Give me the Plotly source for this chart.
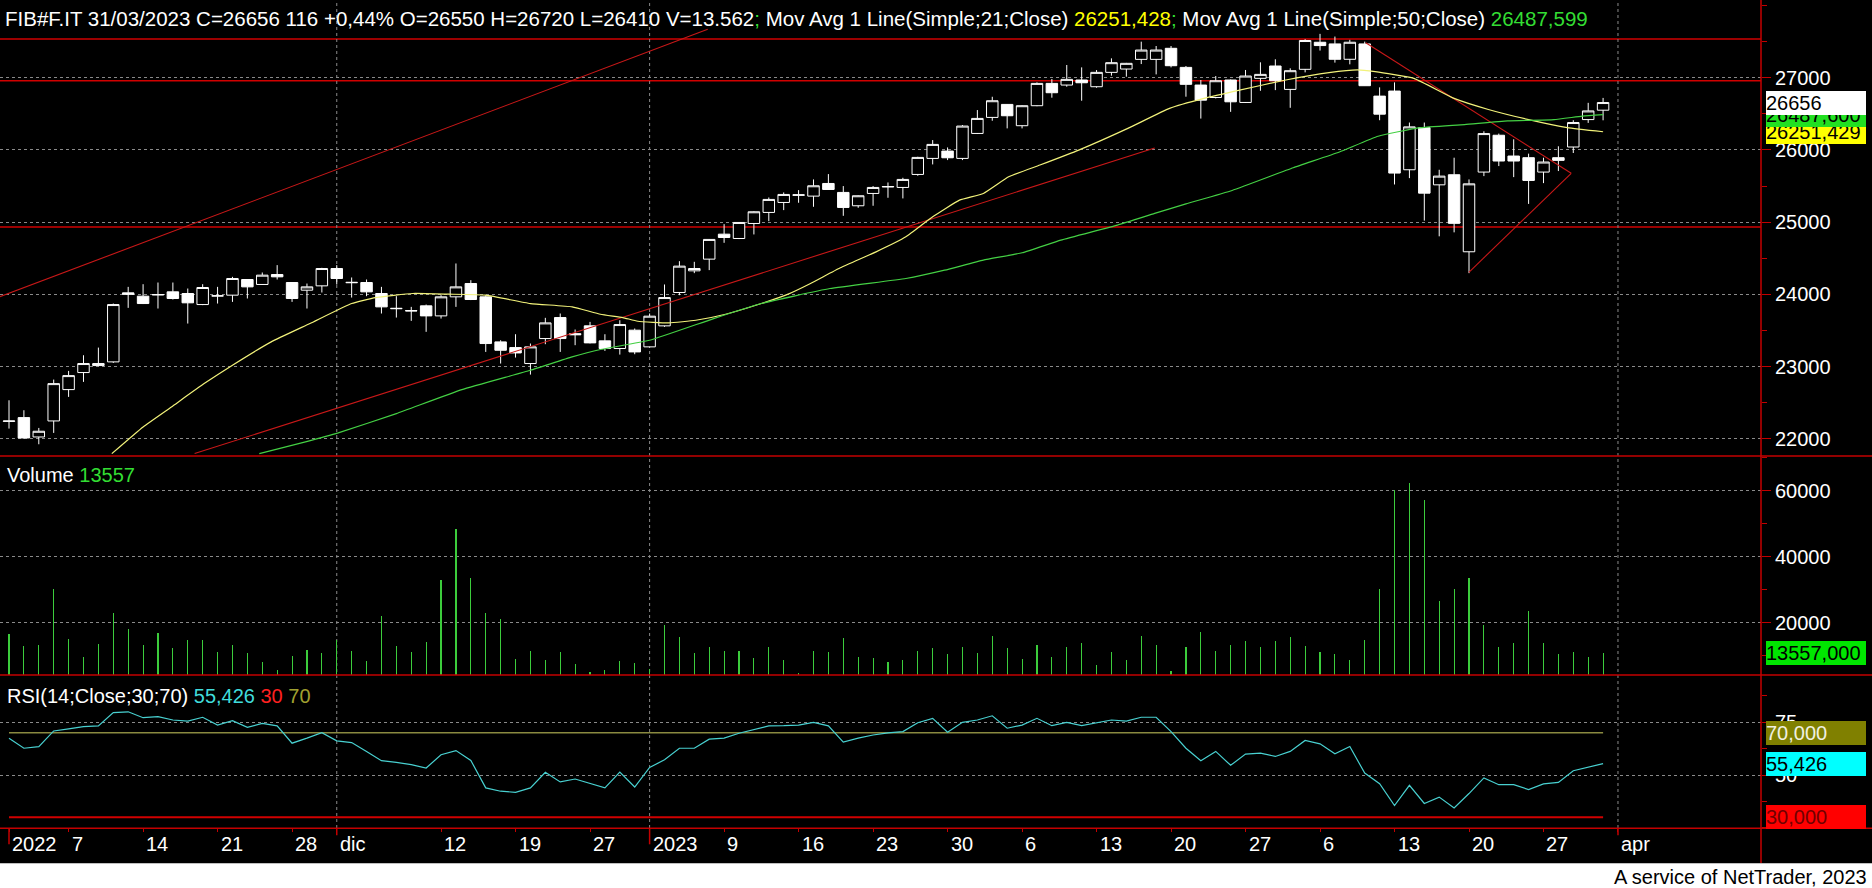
import plotly.graph_objects as go

W, H = 1872, 888
FONT = "Liberation Sans, Arial, sans-serif"
RED = "#c40000"
GRID = "#8a8a8a"

# ---------------- data ----------------
opens = [22240,22292,22024,22246,22680,22916,23013,23064,24020,23974,
         23990,24034,24011,23858,23975,23988,24205,24136,24274,24163,
         24057,24117,24357,24160,24163,24011,23800,23775,23840,23701,
         23965,24149,23965,23341,23262,23041,23387,23678,23455,23563,
         23355,23249,23503,23272,23563,24025,24325,24487,24833,24773,
         24981,25134,25272,25370,25360,25535,25411,25226,25397,25487,
         25480,25660,25882,25984,25882,26228,26450,26630,26335,26612,
         26921,26898,26968,26875,27074,27120,27254,27254,27407,27143,
         26898,26726,26968,26657,26991,27162,26838,27116,27491,27468,
         27255,27468,26745,26815,25725,26309,25516,25656,24589,25693,
         26203,25915,25892,25693,25892,26040,26420,26550]
highs = [22532,22394,22149,22819,22939,23156,23262,23872,24103,24140,
         24163,24163,24080,24140,24103,24242,24210,24302,24404,24170,
         24149,24367,24404,24233,24205,24103,23974,23826,23858,23988,
         24427,24196,23988,23364,23447,23318,23674,23734,23512,23618,
         23447,23641,23526,23734,24136,24459,24450,24765,24972,25000,
         25150,25341,25411,25443,25591,25665,25499,25370,25499,25549,
         25614,25905,26136,26034,26344,26552,26736,26635,26618,26935,
         26982,27176,27143,27106,27268,27205,27499,27439,27439,27162,
         26968,27023,26975,27107,27213,27255,27130,27533,27607,27570,
         27524,27500,26866,26935,26379,26379,25725,25892,25591,26258,
         26226,26147,25948,25892,26050,26411,26652,26720]
lows = [22140,22000,21923,22080,22579,22787,23005,23050,23812,23865,
        23803,23928,23595,23850,23872,23895,23942,24130,24205,23895,
        23803,24025,24136,23955,23974,23734,23678,23632,23480,23664,
        23826,23920,23202,23041,23124,22888,23309,23202,23295,23320,
        23216,23165,23170,23265,23549,23988,24293,24335,24713,24765,
        24829,25013,25166,25268,25212,25445,25087,25198,25226,25337,
        25328,25642,25799,25859,25859,26220,26404,26298,26298,26605,
        26723,26875,26681,26861,27028,27014,27189,27046,27143,26737,
        26434,26713,26527,26650,26819,26828,26583,27074,27376,27209,
        27185,26885,26411,25521,25609,25020,24803,24858,24293,25637,
        25776,25623,25252,25540,25707,25957,26374,26410]
closes = [22245,22010,22103,22763,22874,23041,23041,23858,24000,23872,
          23997,23942,23882,24094,23980,24219,24103,24265,24242,23942,
          24103,24357,24219,24165,24034,23826,23805,23770,23701,23965,
          24103,23928,23318,23225,23188,23272,23604,23387,23440,23327,
          23249,23581,23202,23697,23955,24390,24357,24760,24787,24995,
          25143,25314,25383,25378,25503,25452,25203,25365,25480,25492,
          25591,25896,26076,25891,26330,26436,26681,26473,26612,26921,
          26792,26977,26930,27074,27208,27199,27383,27383,27166,26908,
          26689,26958,26666,27023,27046,26958,27097,27515,27445,27255,
          27491,26889,26495,25679,26319,25401,25637,24983,25530,26226,
          25846,25846,25577,25832,25855,26379,26540,26656]
volumes = [16470,12850,13150,30080,14960,9520,13450,22820,18190,13150,
           16780,12240,14660,14660,11030,13150,10730,8010,5590,9820,
           11640,10830,14660,11440,8310,21910,12850,11030,14060,32800,
           48510,33500,22820,21210,8920,11340,8620,11030,7410,4990,
           5590,8310,7710,6000,19190,15570,10830,12550,11340,11340,
           9220,12550,8620,4790,11340,11030,15270,9520,9220,8010,
           8620,11340,12240,10430,12550,10730,15870,12240,8920,13150,
           9520,12550,13750,7100,11030,8620,15870,13150,5290,12550,
           17080,11340,13150,14360,12550,14360,15570,12850,11030,10430,
           8620,14660,30080,60200,62420,57280,26450,30080,33500,19190,
           12550,13750,23430,13750,10430,11030,9520,10900]
rsi = [67.5,62.7,63.5,70.9,71.9,73.0,73.3,79.6,80.0,77.2,
       77.7,76.1,75.6,77.4,73.7,75.8,72.6,74.5,73.3,65.1,
       67.5,70.1,66.2,65.4,61.2,56.8,56.0,54.9,53.3,59.6,
       61.6,56.9,43.9,42.3,41.8,43.9,51.3,46.7,48.1,45.9,
       43.9,51.4,44.3,53.6,57.2,62.7,62.7,67.0,67.5,69.8,
       71.7,73.3,73.4,73.7,75.0,73.3,65.6,67.5,69.0,70.0,
       70.6,74.8,76.9,70.3,75.0,76.1,78.1,72.2,73.7,76.9,
       73.4,75.0,73.4,74.8,76.1,75.6,77.4,77.4,70.6,62.7,
       56.8,61.2,54.6,59.9,60.4,58.8,61.2,66.4,64.8,60.1,
       63.5,50.9,45.9,35.5,45.1,36.5,39.5,34.4,41.2,48.6,
       45.4,45.4,43.1,45.8,46.5,52.0,53.8,55.426]

ma21_x = [6.9,9.0,10.9,13.1,15.0,17.6,20.2,23.0,24.6,27.1,29.5,32.0,35.0,37.8,
          39.7,41.2,42.2,44.3,46.1,48.1,50.5,52.3,53.8,55.8,58.2,60.2,62.0,63.8,
          65.4,67.1,69.2,71.8,75.1,77.9,80.2,82.6,85.7,88.6,90.5,91.7,94.3,97.0,
          99.3,102.0,104.6,107]
ma21_y = [21793,22163,22440,22763,23018,23341,23595,23872,23955,24011,24002,23988,
          23872,23826,23724,23678,23627,23604,23641,23724,23872,24002,24149,24367,
          24588,24796,25073,25304,25397,25628,25790,25997,26298,26575,26713,26828,
          26968,27070,27107,27083,26991,26713,26560,26420,26309,26251.428]
ma50_x = [16.8,19.9,22.1,26.0,30.4,35.0,37.8,39.7,43.0,47.3,50.5,55.1,60.2,62.8,
          65.4,68.0,70.6,74.4,76.9,79.0,82.1,86.2,89.3,91.9,94.6,97.7,100.6,103.7,
          105.6,107]
ma50_y = [21793,21955,22080,22348,22680,22948,23133,23235,23364,23664,23872,24080,
          24219,24334,24473,24575,24750,24958,25120,25252,25438,25753,25971,26189,
          26305,26351,26402,26420,26467,26487.599]

# drawn trend lines (start, end) in (candle index, price)
trend_up_x, trend_up_y = [-1, 46.9], [23936, 27670]
channel_x, channel_y = [12.46, 76.9], [21795, 26026]
tri_dn_x, tri_dn_y = [91.07, 104.86], [27485, 25676]
tri_up_x, tri_up_y = [97.99, 104.86], [24305, 25676]
hlevels = [27535, 26958, 24932]

tick_idx = [0,4,9,14,19,22,29,34,39,43,48,53,58,63,68,73,78,83,88,93,98,103,108]
tick_text = ["2022","7","14","21","28","dic","12","19","27","2023","9","16","23",
             "30","6","13","20","27","6","13","20","27","apr"]
long_tick_idx = [0, 22, 43, 108]
long_tick_len = [16, 7, 16, 7]
month_lines = [22, 43, 108]

price_ticks = [22000, 23000, 24000, 25000, 26000, 27000]
vol_ticks = [20000, 40000, 60000]
rsi_ticks = [50, 75]

# ---------------- pixel calibration helpers ----------------
def py(p):
    return 1 - p / H

def px(p):
    return p / W

X_RIGHT = 1761
idx = list(range(len(closes)))

fig = go.Figure()

fig.add_trace(go.Candlestick(
    x=idx, open=opens, high=highs, low=lows, close=closes,
    increasing=dict(line=dict(color="white", width=1), fillcolor="black"),
    decreasing=dict(line=dict(color="white", width=1), fillcolor="white"),
    whiskerwidth=0, xaxis="x", yaxis="y", hoverinfo="skip"))

for xs, ys in [(trend_up_x, trend_up_y), (channel_x, channel_y),
               (tri_dn_x, tri_dn_y), (tri_up_x, tri_up_y)]:
    fig.add_trace(go.Scatter(x=xs, y=ys, mode="lines",
                             line=dict(color="#c81818", width=1.1),
                             xaxis="x", yaxis="y", hoverinfo="skip"))

fig.add_trace(go.Scatter(x=ma21_x, y=ma21_y, mode="lines",
                         line=dict(color="#f2f27a", width=1.2, shape="spline", smoothing=0.4),
                         xaxis="x", yaxis="y", hoverinfo="skip"))
fig.add_trace(go.Scatter(x=ma50_x, y=ma50_y, mode="lines",
                         line=dict(color="#44d044", width=1.2, shape="spline", smoothing=0.4),
                         xaxis="x", yaxis="y", hoverinfo="skip"))

fig.add_trace(go.Bar(x=idx, y=volumes, width=0.075, marker=dict(color="#3ccc3c", line=dict(width=0)),
                     xaxis="x", yaxis="y2", hoverinfo="skip"))

fig.add_trace(go.Scatter(x=[idx[0], idx[-1]], y=[70, 70], mode="lines",
                         line=dict(color="#8a8a40", width=1.5), xaxis="x", yaxis="y3", hoverinfo="skip"))
fig.add_trace(go.Scatter(x=[idx[0], idx[-1]], y=[30, 30], mode="lines",
                         line=dict(color="#d00000", width=2), xaxis="x", yaxis="y3", hoverinfo="skip"))
fig.add_trace(go.Scatter(x=idx, y=rsi, mode="lines",
                         line=dict(color="#48d0d0", width=1.2), xaxis="x", yaxis="y3", hoverinfo="skip"))

# ---------------- axes ----------------
x_lo = (0 - 9) / 14.898
x_hi = (X_RIGHT - 9) / 14.898

def yaxis_common(domain, rng, tickvals, minor_dtick):
    return dict(domain=domain, range=rng, side="right", anchor="x",
                tickmode="array", tickvals=tickvals, ticktext=[str(v) for v in tickvals],
                ticks="outside", ticklen=9, tickwidth=1, tickcolor=RED,
                tickfont=dict(family=FONT, size=20, color="white"),
                showgrid=True, gridcolor=GRID, griddash="3px,3px", gridwidth=1,
                zeroline=False, showline=False, fixedrange=True,
                minor=dict(tickmode="linear", tick0=0, dtick=minor_dtick, ticks="outside",
                           ticklen=5, tickwidth=1, tickcolor=RED, showgrid=False))

# price: 27000 at y=77.7px, 72.2 px per 1000
p_top = 27000 + (77.7 - 0) / 0.0722
p_bot = 27000 - (456 - 77.7) / 0.0722
# volume: 20000 at y=622.7px, 66 px per 20000
v_top = 20000 + (622.7 - 456) / 0.0033
v_bot = 20000 - (675 - 622.7) / 0.0033
# rsi: 50 at y=775px, 2.107 px per point
r_top = 50 + (775 - 675) / 2.107
r_bot = 50 - (828.3 - 775) / 2.107

fig.update_layout(
    width=W, height=H, margin=dict(l=0, r=0, t=0, b=0),
    paper_bgcolor="black", plot_bgcolor="black", showlegend=False,
    boxgap=0.23, boxgroupgap=0, bargap=0,
    xaxis=dict(domain=[0, px(X_RIGHT)], range=[x_lo, x_hi], anchor="y3",
               showgrid=False, zeroline=False, showline=False,
               tickmode="array", tickvals=tick_idx, ticks="outside", ticklen=3,
               tickcolor=RED, showticklabels=False, fixedrange=True,
               rangeslider=dict(visible=False)),
    yaxis=yaxis_common([py(456), 1], [p_bot, p_top], price_ticks, 500),
    yaxis2=yaxis_common([py(675), py(456)], [v_bot, v_top], vol_ticks, 10000),
    yaxis3=yaxis_common([py(828.3), py(675)], [r_bot, r_top], rsi_ticks, 12.5),
)

shapes = []
for lv in hlevels:
    shapes.append(dict(type="line", xref="x domain", x0=0, x1=1, yref="y", y0=lv, y1=lv,
                       line=dict(color="#d00000", width=1.6), layer="below"))
for m in month_lines:
    shapes.append(dict(type="line", xref="x", x0=m, x1=m, yref="paper", y0=py(828), y1=1,
                       line=dict(color=GRID, width=1, dash="3px,3px"), layer="below"))
for ysep in [456, 675, 828.3]:
    shapes.append(dict(type="line", xref="paper", x0=0, x1=1, yref="paper", y0=py(ysep), y1=py(ysep),
                       line=dict(color=RED, width=1.5)))
shapes.append(dict(type="line", xref="paper", x0=px(X_RIGHT), x1=px(X_RIGHT), yref="paper",
                   y0=py(863), y1=1, line=dict(color=RED, width=1.5)))
for ti, tl in zip(long_tick_idx, long_tick_len):
    shapes.append(dict(type="line", xref="x", x0=ti, x1=ti, yref="paper",
                       y0=py(828.3), y1=py(828.3 + tl), line=dict(color=RED, width=1.5)))
shapes.append(dict(type="rect", xref="paper", x0=0, x1=1, yref="paper", y0=0, y1=py(863.3),
                   fillcolor="white", line=dict(width=0)))
fig.update_layout(shapes=shapes)

ann = []
hdr = ("FIB#F.IT 31/03/2023 C=26656 116 +0,44% O=26550 H=26720 L=26410 V=13.562"
       "<span style='color:#33dd33'>;</span> Mov Avg 1 Line(Simple;21;Close) "
       "<span style='color:#ffff00'>26251,428</span><span style='color:#33dd33'>;</span> "
       "Mov Avg 1 Line(Simple;50;Close) <span style='color:#33dd33'>26487,599</span>")
ann.append(dict(x=px(3), y=py(18), xref="paper", yref="paper", xanchor="left", yanchor="middle",
                text=hdr, showarrow=False, font=dict(family=FONT, size=20.5, color="white")))
ann.append(dict(x=px(5), y=py(475), xref="paper", yref="paper", xanchor="left", yanchor="middle",
                text="Volume <span style='color:#33dd33'>13557</span>", showarrow=False,
                font=dict(family=FONT, size=20, color="white")))
ann.append(dict(x=px(5), y=py(696), xref="paper", yref="paper", xanchor="left", yanchor="middle",
                text=("RSI(14;Close;30;70) <span style='color:#40dcdc'>55,426</span> "
                      "<span style='color:#ff2020'>30</span> <span style='color:#a0a030'>70</span>"),
                showarrow=False, font=dict(family=FONT, size=20, color="white")))
for ti, tt in zip(tick_idx, tick_text):
    ann.append(dict(x=ti, xref="x", y=py(844), yref="paper", xanchor="left", yanchor="middle",
                    xshift=1, text=tt, showarrow=False, font=dict(family=FONT, size=20, color="white")))
ann.append(dict(x=px(1869), y=py(877), xref="paper", yref="paper", xanchor="right", yanchor="middle",
                text="A service of NetTrader, 2023", showarrow=False,
                font=dict(family=FONT, size=20, color="black")))

def badge(text, yval, yref, bg, fg):
    return dict(x=px(1766), xref="paper", xanchor="left", y=yval, yref=yref, yanchor="middle",
                text=text, showarrow=False, bgcolor=bg, width=100, height=24, align="left",
                borderpad=0, borderwidth=0, font=dict(family=FONT, size=20, color=fg))

ann.append(badge("26251,429", ma21_y[-1], "y", "#ffff00", "black"))
ann.append(badge("26487,600", ma50_y[-1], "y", "#22e022", "black"))
ann.append(badge(str(closes[-1]), closes[-1], "y", "#ffffff", "black"))
ann.append(badge("13557,000", volumes[-1], "y2", "#00e600", "black"))
ann.append(badge("70,000", 70, "y3", "#808000", "#f0f0e0"))
ann.append(badge("55,426", rsi[-1], "y3", "#00ffff", "black"))
ann.append(badge("30,000", 30, "y3", "#ff0000", "#700000"))
fig.update_layout(annotations=ann)

fig.write_html("out.html", config={"displayModeBar": False, "staticPlot": True},
               post_script="document.body.style.margin='0';document.body.style.overflow='hidden';")
